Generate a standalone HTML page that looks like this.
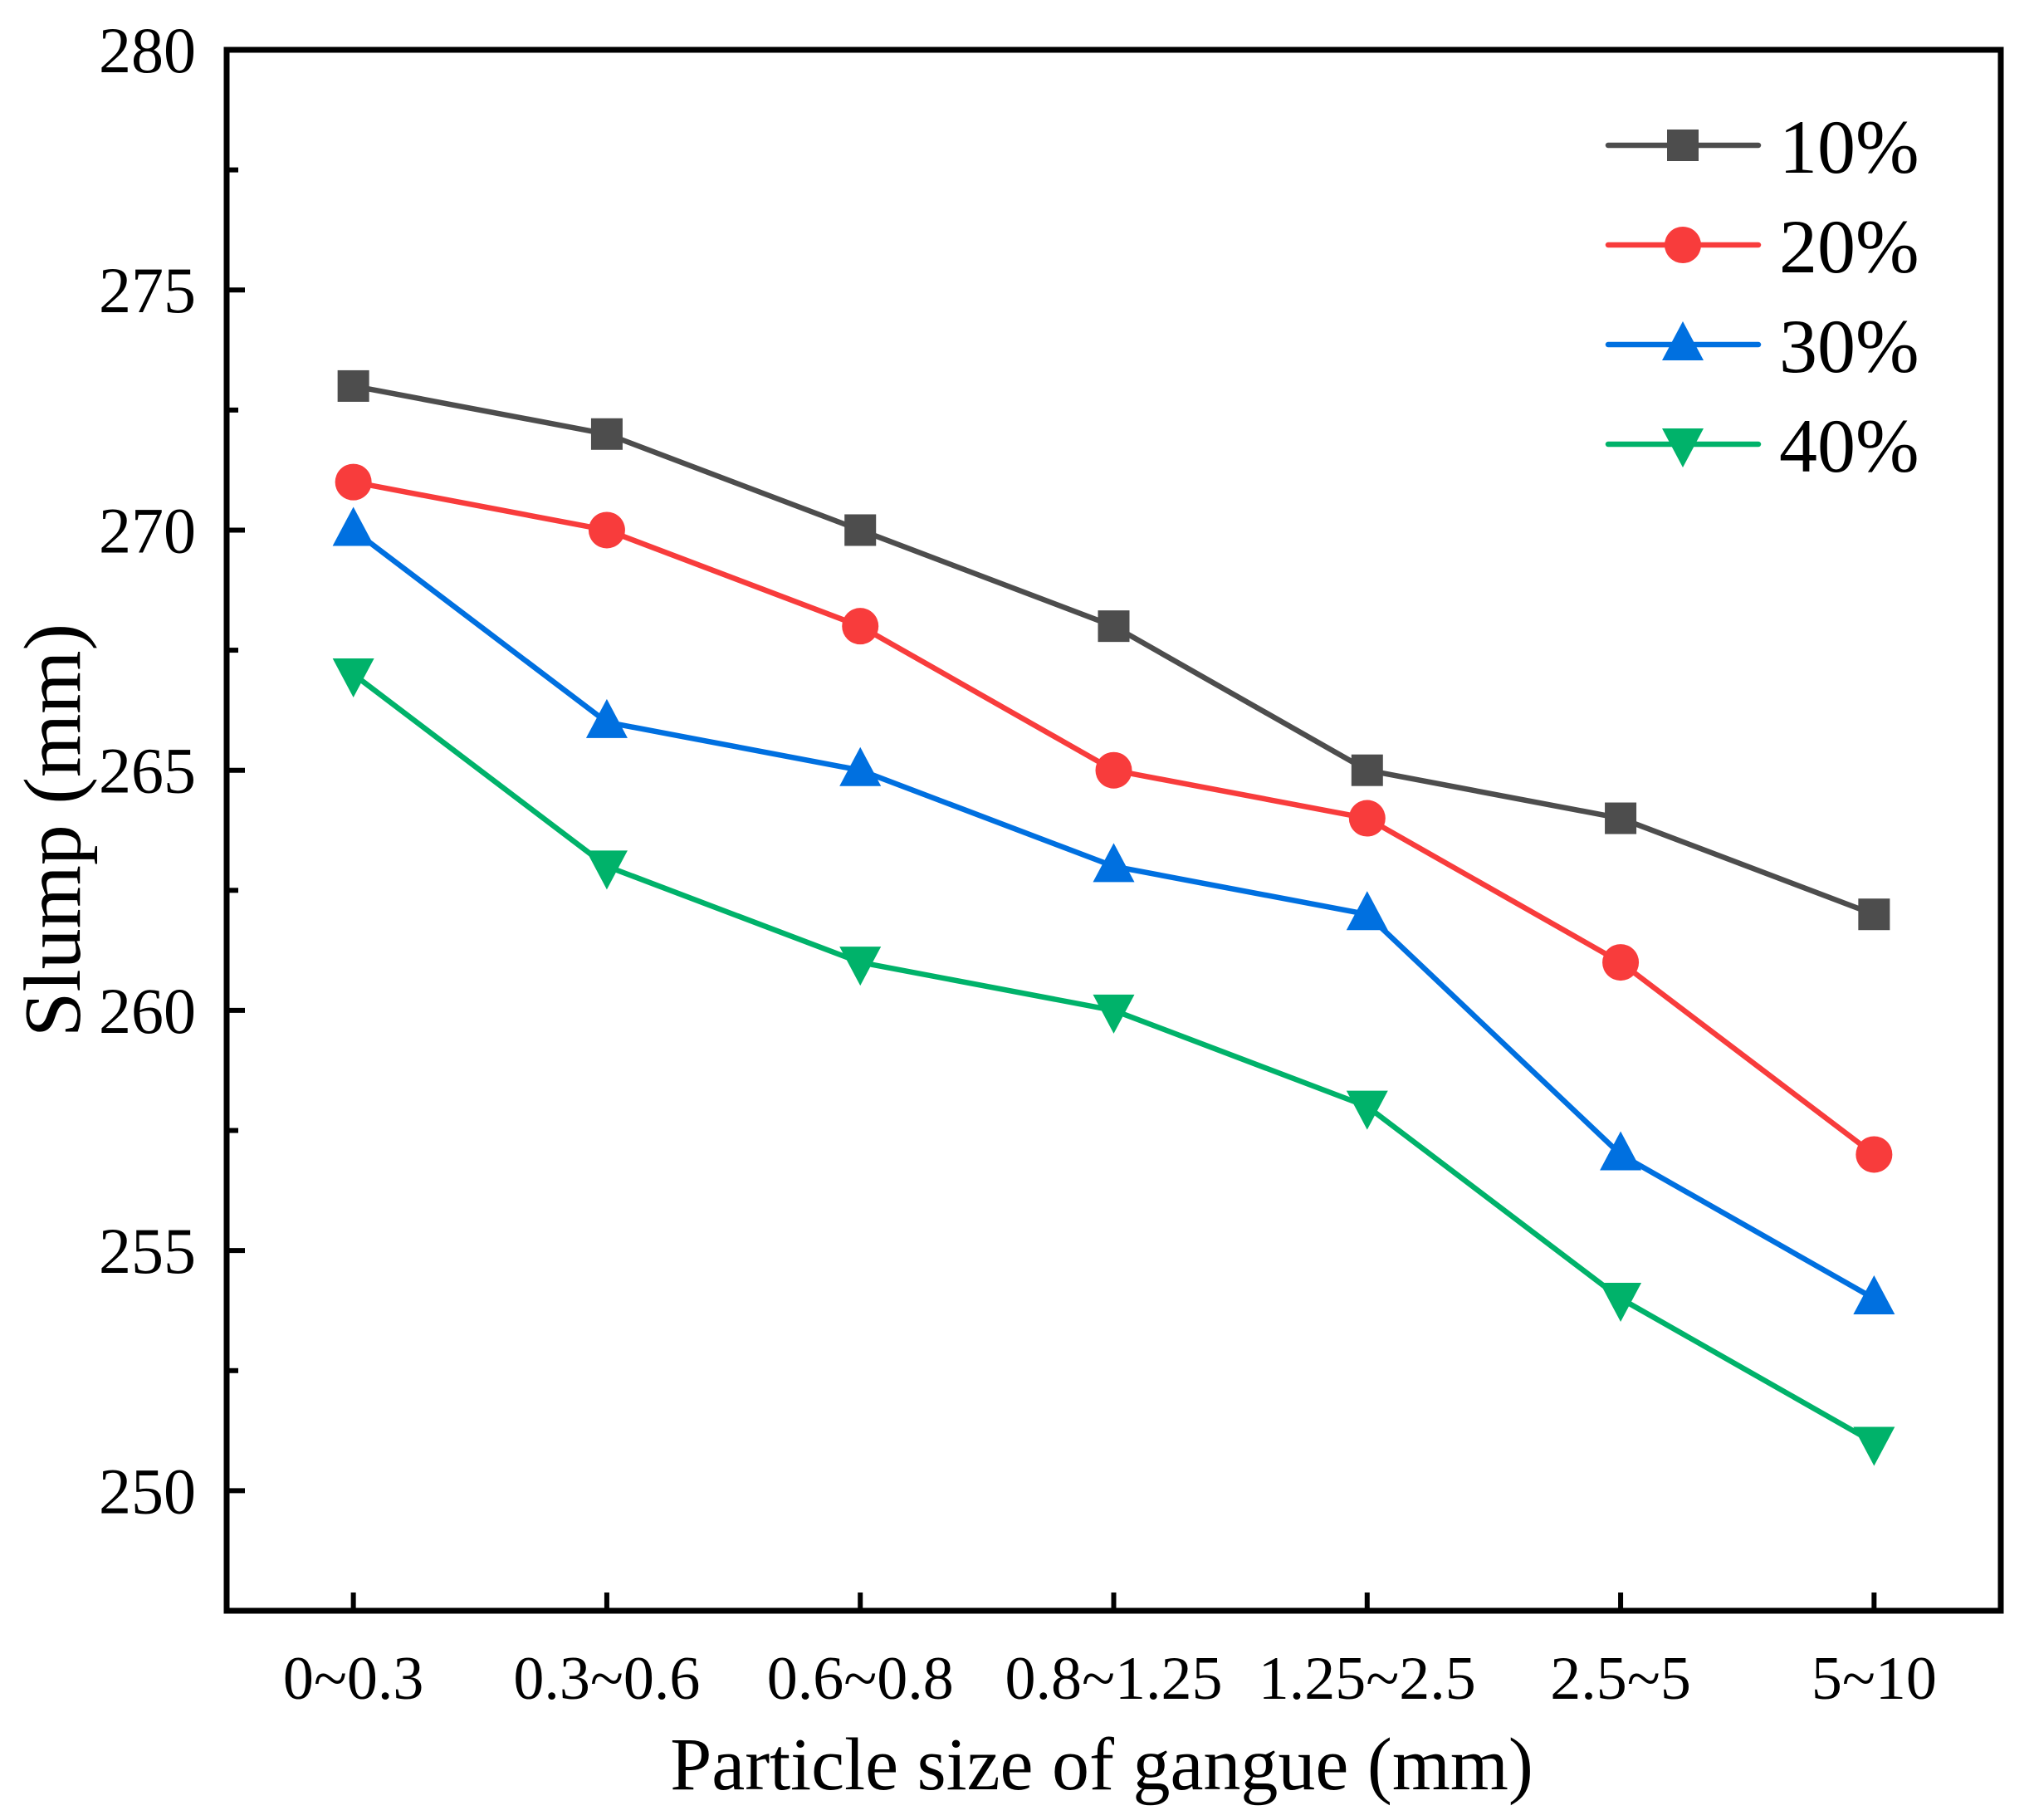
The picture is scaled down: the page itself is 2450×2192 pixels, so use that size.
<!DOCTYPE html>
<html><head><meta charset="utf-8"><style>
html,body{margin:0;padding:0;background:#fff}
svg{display:block}
text{font-family:"Liberation Serif",serif;fill:#000}
</style></head><body>
<svg id="chart" width="2450" height="2192" viewBox="0 0 2450 2192" xmlns="http://www.w3.org/2000/svg">
<g id="plot"></g>
</svg>
<script>
const categories = ["0~0.3","0.3~0.6","0.6~0.8","0.8~1.25","1.25~2.5","2.5~5","5~10"];
const series10 = [273,272,270,268,265,264,262];
const series20 = [271,270,268,265,264,261,257];
const series30 = [270,266,265,263,262,257,254];
const series40 = [267,263,261,260,258,254,251];
const seriesNames = ["10%","20%","30%","40%"];
const yTicks = [250,255,260,265,270,275,280];
const yMinorTicks = [252.5,257.5,262.5,267.5,272.5,277.5];

const L=273,R=2410,T=60,B=1940, yMin=247.5, yMax=280;
const NS='http://www.w3.org/2000/svg';
const g=document.getElementById('plot');
function X(i){return L+(i+0.5)*(R-L)/categories.length;}
function Y(v){return T+(yMax-v)*(B-T)/(yMax-yMin);}
function el(tag,attrs,parent){const e=document.createElementNS(NS,tag);for(const k in attrs)e.setAttribute(k,attrs[k]);(parent||g).appendChild(e);return e;}

const colors=["#4d4d4d","#f83c3c","#0070e0","#00b26a"];
const all=[series10,series20,series30,series40];
const shapes=["square","circle","up","down"];
function marker(shape,x,y,c,parent){
  let m;
  if(shape==="square") m=el('rect',{x:x-19,y:y-19,width:38,height:38,fill:c},parent);
  else if(shape==="circle") m=el('circle',{cx:x,cy:y,r:22,fill:c},parent);
  else if(shape==="up") m=el('polygon',{points:`${x},${y-28} ${x-25},${y+19} ${x+25},${y+19}`,fill:c},parent);
  else m=el('polygon',{points:`${x},${y+28} ${x-25},${y-19} ${x+25},${y-19}`,fill:c},parent);
  return m;
}
all.forEach((s,si)=>{
  const grp=el('g',{});
  
  
  const pl=el('polyline',{points:s.map((v,i)=>X(i)+','+Y(v)).join(' '),fill:'none',stroke:colors[si],'stroke-width':6.5,'stroke-linejoin':'round'},grp);
  
  
  s.forEach((v,i)=>{
    const m=marker(shapes[si],X(i),Y(v),colors[si],grp);
    
    
  });
});

const frame=el('rect',{x:L,y:T,width:R-L,height:B-T,fill:'none',stroke:'#000','stroke-width':7});



yTicks.forEach(v=>{
  const t=el('line',{x1:L,x2:L+22,y1:Y(v),y2:Y(v),stroke:'#000','stroke-width':6});
  
  
  const lb=el('text',{x:236,y:Y(v)+27,'text-anchor':'end','font-size':78});
  lb.textContent=v;
  
  
});
yMinorTicks.forEach(v=>{
  const t=el('line',{x1:L,x2:L+14,y1:Y(v),y2:Y(v),stroke:'#000','stroke-width':6});
  
  
});
categories.forEach((c,i)=>{
  const t=el('line',{x1:X(i),x2:X(i),y1:B,y2:B-22,stroke:'#000','stroke-width':6});
  
  
  const lb=el('text',{x:X(i),y:2046,'text-anchor':'middle','font-size':74});
  lb.textContent=c;
  
  
});
const xt=el('text',{x:1327,y:2155,'text-anchor':'middle','font-size':90});
xt.textContent='Particle size of gangue (mm)';


const yt=el('text',{x:0,y:0,'text-anchor':'middle','font-size':98,transform:'translate(96,1000) rotate(-90)'});
yt.textContent='Slump (mm)';



const legend=el('g',{});


seriesNames.forEach((n,si)=>{
  const y=175+si*120;
  const eg=el('g',{},legend);
  
  
  el('line',{x1:1937,x2:2118,y1:y,y2:y,stroke:colors[si],'stroke-width':6.5,'stroke-linecap':'round'},eg);
  marker(shapes[si],2027,y,colors[si],eg);
  const tx=el('text',{x:2143,y:y+33,'font-size':92},eg);
  tx.textContent=n;
});
</script>
</body></html>
